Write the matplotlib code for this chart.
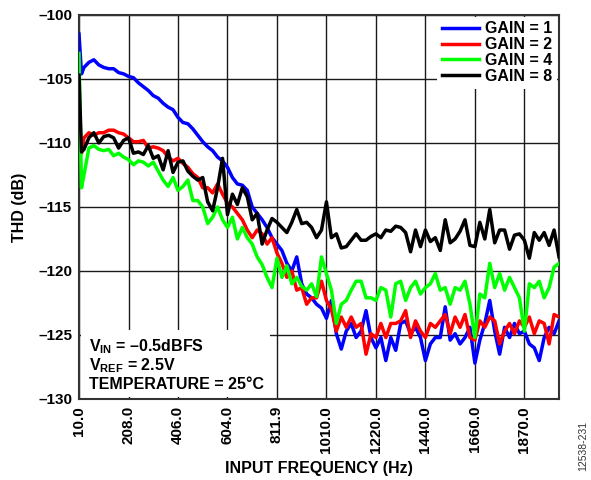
import matplotlib
matplotlib.use('Agg')
import matplotlib.pyplot as plt
from matplotlib.patches import Rectangle

plt.rcParams['font.family'] = ['Liberation Sans', 'DejaVu Sans']
plt.rcParams['font.weight'] = 'bold'
plt.rcParams['mathtext.fontset'] = 'custom'
plt.rcParams['mathtext.rm'] = 'Liberation Sans:bold'
plt.rcParams['mathtext.bf'] = 'Liberation Sans:bold'
plt.rcParams['mathtext.it'] = 'Liberation Sans:bold'

# sample index along the frequency sweep (axis is categorical, ticks every 20 bins)
x = [0, 1] + list(range(2, 195, 2))

tick_pos = list(range(0, 181, 20))
tick_labels = ['10.0', '208.0', '406.0', '604.0', '811.9', '1010.0',
               '1220.0', '1440.0', '1660.0', '1870.0']

gain1 = [-101.5, -104.6,
         -104.1, -103.7, -103.5, -103.9, -104.1, -104.2, -104.2, -104.5, -104.6, -104.8,
         -104.9, -105.3, -105.6, -105.9, -106.3, -106.5, -106.9, -107.2, -107.4, -108.0,
         -108.4, -108.5, -108.9, -109.4, -109.9, -110.3, -110.6, -111.1, -111.4, -111.9,
         -112.7, -113.2, -113.3, -113.7, -115.0, -115.5, -116.0, -116.6, -117.4, -117.9,
         -118.4, -119.4, -120.0, -118.9, -121.0, -121.8, -122.1, -122.6, -122.9, -123.7,
         -122.3, -124.9, -126.1, -124.7, -124.1, -125.2, -124.7, -123.1, -125.2, -126.0,
         -125.2, -127.0, -125.2, -126.2, -124.1, -123.9, -124.9, -124.4, -125.2, -127.0,
         -125.7, -125.2, -125.2, -122.8, -125.4, -124.9, -125.7, -125.2, -124.4, -127.2,
         -125.4, -124.1, -122.3, -124.7, -126.5, -124.4, -125.2, -124.1, -124.9, -124.7,
         -125.7, -126.0, -127.0, -125.2, -124.4, -124.9, -123.9]

gain2 = [-110.0, -110.8,
         -109.6, -109.2, -109.4, -109.2, -109.2, -109.0, -109.0, -109.2, -109.3, -109.6,
         -109.9, -109.9, -109.8, -110.4, -110.3, -110.4, -110.6, -111.1, -111.4, -111.2,
         -111.6, -111.9, -112.4, -112.7, -113.5, -113.5, -113.9, -113.2, -114.0, -114.7,
         -115.0, -115.5, -116.0, -116.8, -117.4, -116.8, -117.1, -117.9, -117.4, -118.6,
         -119.4, -120.5, -120.0, -121.5, -121.3, -122.6, -122.1, -122.1, -120.8, -122.3,
         -123.0, -124.7, -123.6, -124.4, -123.6, -124.4, -124.1, -126.5, -124.9, -125.2,
         -124.1, -125.2, -124.1, -124.1, -123.9, -123.1, -125.2, -123.9, -124.7, -125.2,
         -124.1, -124.4, -123.9, -123.4, -124.9, -123.6, -124.4, -123.4, -125.2, -125.4,
         -123.9, -124.4, -123.6, -123.9, -125.7, -124.7, -124.1, -124.9, -123.9, -124.4,
         -123.6, -124.9, -123.9, -124.1, -125.7, -123.4, -123.6]

gain4 = [-103.0, -113.5,
         -112.5, -110.4, -110.2, -110.5, -110.6, -110.5, -111.0, -110.8, -111.1, -111.3,
         -111.7, -111.4, -111.5, -111.8, -111.5, -112.2, -112.9, -113.4, -112.7, -113.7,
         -113.4, -112.9, -114.5, -114.5, -115.0, -116.3, -115.8, -115.0, -116.0, -116.6,
         -115.8, -117.5, -116.6, -117.4, -117.9, -118.9, -119.5, -120.5, -121.3, -119.0,
         -120.5, -119.6, -121.0, -120.5, -121.2, -121.5, -121.0, -122.0, -118.9, -120.2,
         -121.5, -124.1, -122.6, -122.3, -121.5, -120.8, -120.8, -122.1, -122.1, -122.3,
         -121.3, -121.5, -123.6, -121.0, -120.8, -122.3, -121.3, -120.8, -121.8, -121.3,
         -121.0, -120.2, -121.5, -121.3, -122.6, -121.3, -121.5, -120.8, -122.6, -125.2,
         -121.8, -122.1, -119.4, -121.3, -120.2, -121.5, -120.5, -121.3, -122.1, -124.7,
         -121.0, -121.3, -120.8, -122.1, -121.3, -119.7, -119.4]

gain8 = [-104.7, -110.7,
         -110.5, -109.6, -109.2, -110.0, -109.5, -109.4, -109.6, -110.4, -109.8, -109.6,
         -110.8, -110.7, -110.9, -110.2, -111.2, -111.0, -112.1, -110.6, -112.3, -111.5,
         -111.4, -112.2, -112.6, -112.9, -112.7, -114.6, -115.3, -113.5, -111.2, -115.6,
         -114.0, -114.8, -113.5, -114.2, -116.0, -115.5, -117.9, -116.8, -115.9, -116.2,
         -116.6, -117.0, -116.2, -115.2, -116.3, -116.2, -116.6, -117.4, -116.8, -114.6,
         -117.4, -117.1, -118.2, -118.1, -117.6, -117.1, -117.6, -117.6, -117.3, -117.1,
         -117.4, -116.8, -116.9, -116.5, -116.6, -117.0, -118.5, -116.8, -118.1, -116.8,
         -117.7, -117.4, -118.4, -116.0, -117.8, -117.5, -116.9, -116.0, -118.0, -118.1,
         -116.2, -117.5, -115.2, -117.8, -116.8, -116.8, -118.3, -117.2, -117.1, -117.6,
         -119.0, -117.0, -117.6, -117.0, -118.0, -116.8, -118.9]

series = [('GAIN = 1', gain1, '#0000ff'),
          ('GAIN = 2', gain2, '#ff0000'),
          ('GAIN = 4', gain4, '#00ff00'),
          ('GAIN = 8', gain8, '#000000')]

fig = plt.figure(figsize=(5.91, 4.80), dpi=100)
ax = fig.add_axes([0.1337, 0.1688, 0.8122, 0.8000])

for label, vals, color in series:
    ax.plot(x, vals, color=color, lw=2.5, label=label, zorder=3, solid_joinstyle='round')

ax.set_xlim(0, 194)
ax.set_ylim(-130, -100)

yticks = list(range(-130, -99, 5))
ax.set_yticks(yticks)
ax.set_yticklabels([f'\u2013{abs(v)}' for v in yticks], fontsize=11, fontweight='bold')
ax.set_xticks(tick_pos)
ax.set_xticklabels(tick_labels, rotation=90, fontsize=11, fontweight='bold')
ax.tick_params(length=0, pad=5)

ax.set_axisbelow(True)
ax.grid(True, color='#1a1a1a', lw=1.0)
for sp in ax.spines.values():
    sp.set_color('#333333')
    sp.set_linewidth(1.5)

ax.set_xlabel('INPUT FREQUENCY (Hz)', fontsize=11.5, fontweight='bold', labelpad=6)
ax.set_ylabel('THD (dB)', fontsize=11.5, fontweight='bold', labelpad=8)

leg = ax.legend(loc='upper right', fontsize=11.5, frameon=True, fancybox=False,
                handlelength=2.3, handletextpad=0.4, labelspacing=0.05,
                borderpad=0.3, borderaxespad=0.1)
leg.get_frame().set_edgecolor('none')
leg.get_frame().set_facecolor('white')
leg.get_frame().set_alpha(1)
for t in leg.get_texts():
    t.set_fontweight('bold')

# white box behind the test conditions
ax.add_patch(Rectangle((0.004, 0.004), 0.394, 0.176, transform=ax.transAxes,
                       facecolor='white', edgecolor='none', zorder=1))
notes = ['V$_{\\mathrm{IN}}$ = \u20130.5dBFS',
         'V$_{\\mathrm{REF}}$ = 2.5V',
         'TEMPERATURE = 25\u00b0C']
for i, s in enumerate(notes):
    ax.text(0.02, 0.125 - i * 0.05, s, transform=ax.transAxes, fontsize=11.5,
            fontweight='bold', va='baseline', ha='left', zorder=4)

fig.text(0.986, 0.07, '12538-231', rotation=90, fontsize=7.5, fontweight='normal',
         color='#333333', ha='center', va='center')

fig.savefig('out.png', dpi=100)
